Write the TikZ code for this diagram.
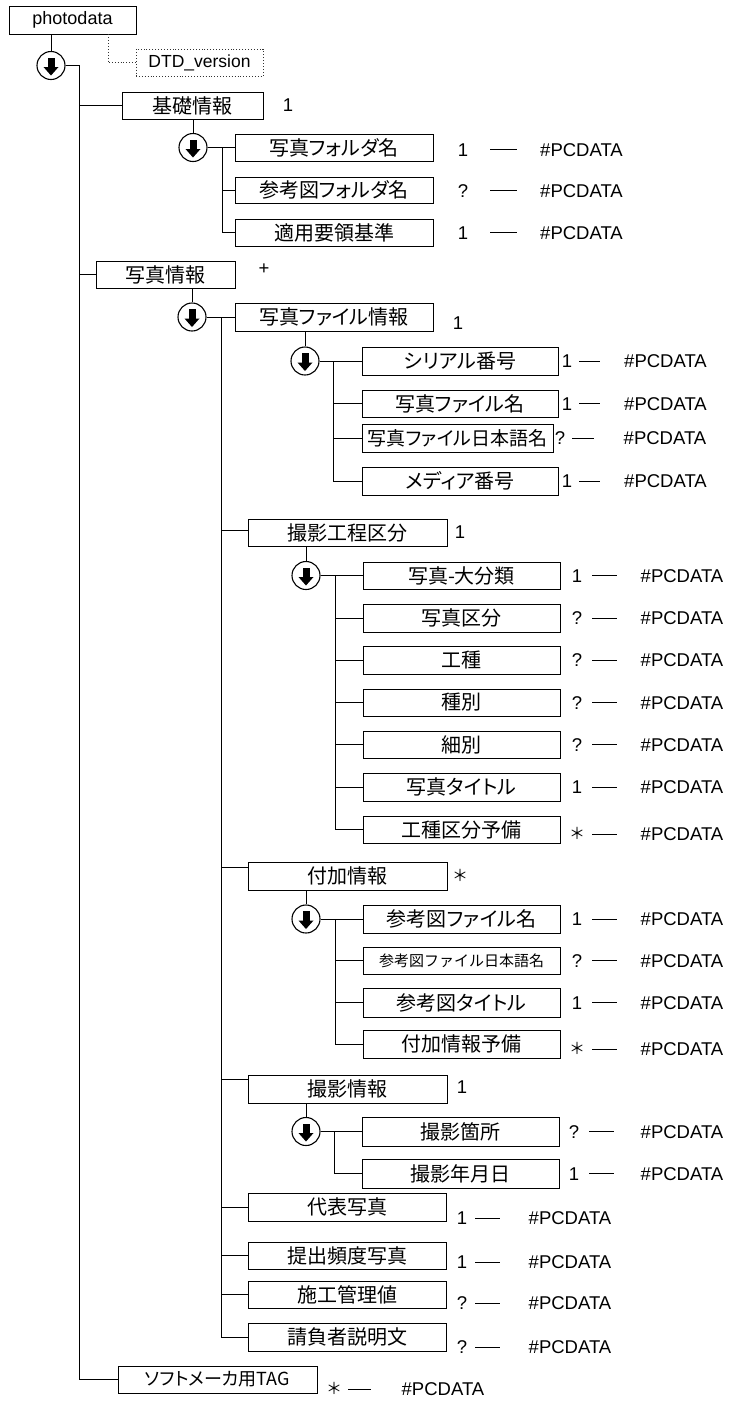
\documentclass[tikz,border=0pt]{standalone}
\usepackage{fontspec}
\setmainfont{Liberation Sans}
\newfontfamily\jp[RawFeature=+palt]{Noto Sans CJK JP}
\newfontfamily\jpw{Noto Sans CJK JP}
\usetikzlibrary{calc}
\tikzset{
  box/.style={draw, line width=0.9pt, fill=white, inner sep=0pt,
    font=\jp\fontsize{20}{20}\selectfont},
  lbl/.style={inner sep=0pt, font=\fontsize{18.5}{18.5}\selectfont,
    text height=13.2pt, text depth=0pt},
  conn/.style={line width=0.9pt},
  circ/.style={draw, circle, line width=1.1pt, minimum size=28pt, inner sep=0pt, fill=white},
}
\newcommand\bx[7][]{\node[box, #1, minimum width=#4pt-#3pt, minimum height=#6pt-#5pt]
  (#2) at ({(#3+#4)/2},{(#5+#6)/2}) {#7};}
\newcommand\ca[3]{\node[circ] (#1) at (#2,#3) {};
  \fill (#2-3.5,#3-8) rectangle (#2+3.5,#3+2);
  \fill (#2-7.5,#3+1.5) -- (#2+7.5,#3+1.5) -- (#2,#3+10) -- cycle;}
% name, y, mult x, mult text, dash x1, dash x2, pcdata centre x
\newcommand\lb[7]{\node[lbl] (#1m) at (#3,#2) {#4};
  \node[lbl] (#1p) at (#7,#2) {\#PCDATA};
  \draw[conn] ($(#1m)+({#5-#3},0)$) -- ($(#1m)+({#6-#3},0)$);}
\newcommand\astr{\raisebox{1pt}{\jpw\fontsize{16}{16}\selectfont ＊}}
\begin{document}
\begin{tikzpicture}[x=1pt,y=-1pt]
\useasboundingbox (0,0) rectangle (735,1401);

% ---- boxes ----
\bx[font=\fontsize{18}{18}\selectfont]{pd}{9}{136}{6}{34}{photodata}
\bx[dotted, draw=black!80, font=\fontsize{17.5}{17.5}\selectfont]{dtd}{136}{263}{49}{76}{DTD\_version}
\bx{kiso}{122}{263}{92}{119}{基礎情報}
\bx{k1}{235}{433}{134}{161}{写真フォルダ名}
\bx{k2}{235}{433}{177}{203}{参考図フォルダ名}
\bx{k3}{235}{433}{219}{246}{適用要領基準}
\bx{shin}{96}{235}{261}{288}{写真情報}
\bx{sf}{235}{433}{303}{331}{写真ファイル情報}
\bx{sf1}{362}{558}{347}{375}{シリアル番号}
\bx{sf2}{362}{558}{390}{417}{写真ファイル名}
\bx[font=\jp\fontsize{19}{19}\selectfont]{sf3}{362}{553}{424}{452}{写真ファイル日本語名}
\bx{sf4}{362}{558}{467}{495}{メディア番号}
\bx{kk}{248}{447}{519}{546}{撮影工程区分}
\bx{kk1}{363}{560}{562}{589}{写真-大分類}
\bx{kk2}{363}{560}{604}{632}{写真区分}
\bx{kk3}{363}{560}{646}{674}{工種}
\bx{kk4}{363}{560}{689}{716}{種別}
\bx{kk5}{363}{560}{731}{758}{細別}
\bx{kk6}{363}{560}{773}{801}{写真タイトル}
\bx{kk7}{363}{560}{816}{843}{工種区分予備}
\bx{fk}{248}{447}{862}{890}{付加情報}
\bx{fk1}{363}{560}{905}{933}{参考図ファイル名}
\bx[font=\jpw\fontsize{15}{15}\selectfont]{fk2}{363}{560}{947}{974}{参考図ファイル日本語名}
\bx{fk3}{363}{560}{988}{1017}{参考図タイトル}
\bx{fk4}{363}{560}{1030}{1058}{付加情報予備}
\bx{sk}{248}{447}{1075}{1103}{撮影情報}
\bx{sk1}{362}{559}{1117}{1146}{撮影箇所}
\bx{sk2}{362}{559}{1159}{1188}{撮影年月日}
\bx{dh}{248}{446}{1193}{1221}{代表写真}
\bx{tj}{248}{446}{1242}{1269}{提出頻度写真}
\bx{sg}{248}{446}{1281}{1308}{施工管理値}
\bx{uk}{248}{446}{1323}{1351}{請負者説明文}
\bx[font=\jp\fontsize{18}{18}\selectfont]{soft}{118}{317}{1366}{1393}{ソフトメーカ用TAG}

% ---- sequence circles ----
\ca{c0}{51}{65.5}
\ca{c1}{193}{147.5}
\ca{c2}{192}{317}
\ca{c3}{305}{361}
\ca{c4}{306}{575.5}
\ca{c5}{306}{919}
\ca{c6}{306}{1131.5}

% ---- trunk coordinates ----
\coordinate (t0) at (79,0);
\coordinate (t1) at (222,0);
\coordinate (t2) at (221,0);
\coordinate (t3) at (333,0);
\coordinate (t4) at (335,0);
\coordinate (t5) at (335,0);
\coordinate (t6) at (334,0);
\coordinate (dx) at (108,0);

% ---- connectors ----
\draw[dotted, line width=0.9pt, draw=black!80] (dx |- pd.south) |- (dtd.west);
\draw[conn] (c0.north) -- (c0 |- pd.south);
\draw[conn] (c0.east) -- (c0.east -| t0) -- (t0 |- soft.west) -- (soft.west);
\draw[conn] (t0 |- kiso.west) -- (kiso.west);
\draw[conn] (t0 |- shin.west) -- (shin.west);

\draw[conn] (c1.north) -- (c1 |- kiso.south);
\draw[conn] (c1.east) -- (k1.west);
\draw[conn] (c1.east -| t1) -- (t1 |- k3.west) -- (k3.west);
\draw[conn] (t1 |- k2.west) -- (k2.west);

\draw[conn] (c2.north) -- (c2 |- shin.south);
\draw[conn] (c2.east) -- (sf.west);
\draw[conn] (c2.east -| t2) -- (t2 |- uk.west) -- (uk.west);
\coordinate (kkj) at ([yshift=2.5pt]kk.west);
\coordinate (fkj) at ([yshift=9pt]fk.west);
\coordinate (skj) at ([yshift=10pt]sk.west);
\draw[conn] (t2 |- kkj) -- (kkj);
\draw[conn] (t2 |- fkj) -- (fkj);
\draw[conn] (t2 |- skj) -- (skj);
\draw[conn] (t2 |- dh.west) -- (dh.west);
\draw[conn] (t2 |- tj.west) -- (tj.west);
\draw[conn] (t2 |- sg.west) -- (sg.west);

\draw[conn] (c3.north) -- (c3 |- sf.south);
\draw[conn] (c3.east) -- (sf1.west);
\draw[conn] (c3.east -| t3) -- (t3 |- sf4.west) -- (sf4.west);
\draw[conn] (t3 |- sf2.west) -- (sf2.west);
\draw[conn] (t3 |- sf3.west) -- (sf3.west);

\draw[conn] (c4.north) -- (c4 |- kk.south);
\draw[conn] (c4.east) -- (kk1.west);
\draw[conn] (c4.east -| t4) -- (t4 |- kk7.west) -- (kk7.west);
\foreach \n in {kk2,kk3,kk4,kk5,kk6} \draw[conn] (t4 |- \n.west) -- (\n.west);

\draw[conn] (c5.north) -- (c5 |- fk.south);
\draw[conn] (c5.east) -- (fk1.west);
\draw[conn] (c5.east -| t5) -- (t5 |- fk4.west) -- (fk4.west);
\draw[conn] (t5 |- fk2.west) -- (fk2.west);
\draw[conn] (t5 |- fk3.west) -- (fk3.west);

\draw[conn] (c6.north) -- (c6 |- sk.south);
\draw[conn] (c6.east) -- (sk1.west);
\draw[conn] (c6.east -| t6) -- (t6 |- sk2.west) -- (sk2.west);

% ---- occurrence labels of element boxes ----
\node[lbl] (kisom) at (288,105) {1};
\node[lbl] (shinm) at (264,268) {+};
\node[lbl] (sfm) at (458,323) {1};
\node[lbl] (kkm) at (460,532) {1};
\node[lbl] (fkm) at (460,876) {\astr};
\node[lbl] (skm) at (462,1087) {1};

% ---- leaf labels ----
\lb{k1}{149.5}{463}{1}{490}{517}{581.5}
\lb{k2}{190.5}{463}{?}{490}{517}{581.5}
\lb{k3}{232.5}{463}{1}{490}{517}{581.5}

\lb{sf1}{361}{567}{1}{579}{600}{665.5}
\lb{sf2}{403.5}{567}{1}{579}{600}{665.5}
\lb{sf3}{438}{560}{?}{572}{594}{665}
\lb{sf4}{481}{567}{1}{579}{600}{665.5}

\lb{kk1}{575.5}{577}{1}{592}{617}{682}
\lb{kk2}{618}{577}{?}{592}{617}{682}
\lb{kk3}{660}{577}{?}{592}{617}{682}
\lb{kk4}{702.5}{577}{?}{592}{617}{682}
\lb{kk5}{744.5}{577}{?}{592}{617}{682}
\lb{kk6}{787}{577}{1}{592}{617}{682}
\lb{kk7}{834}{577}{\astr}{592}{617}{682}

\lb{fk1}{919}{577}{1}{592}{617}{682}
\lb{fk2}{960.5}{577}{?}{592}{617}{682}
\lb{fk3}{1002.5}{577}{1}{592}{617}{682}
\lb{fk4}{1049}{577}{\astr}{592}{617}{682}

\lb{sk1}{1131.5}{574}{?}{589}{614}{682}
\lb{sk2}{1173.5}{574}{1}{589}{614}{682}

\lb{dh}{1218}{462}{1}{475}{500}{570}
\lb{tj}{1262}{462}{1}{475}{500}{570}
\lb{sg}{1303}{462}{?}{475}{500}{570}
\lb{uk}{1347}{462}{?}{475}{500}{570}

\lb{soft}{1389}{334}{\astr}{348}{371}{443}
\end{tikzpicture}
\end{document}
